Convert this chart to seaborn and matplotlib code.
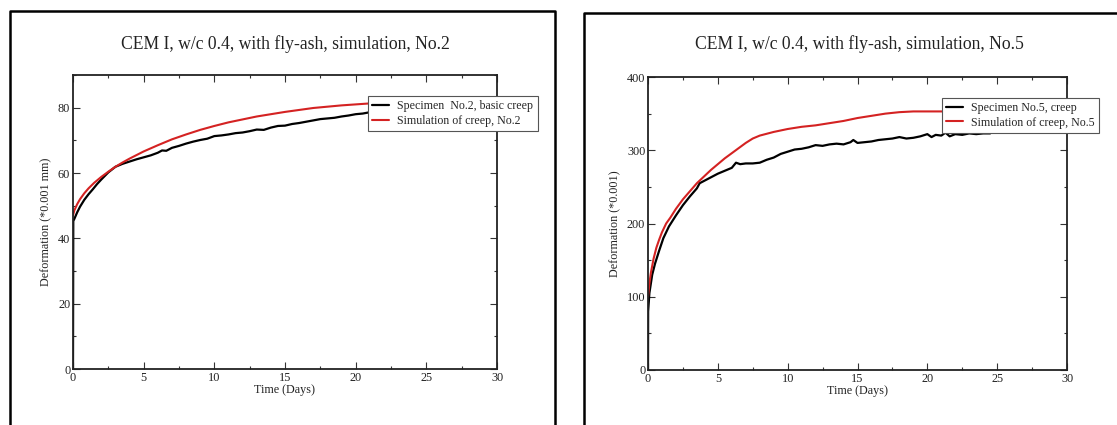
import matplotlib
matplotlib.use("Agg")
import matplotlib.pyplot as plt
from matplotlib.ticker import MultipleLocator
from matplotlib.lines import Line2D
import pandas as pd
import seaborn as sns

# specimen No.2 (measured) and its simulation
t_spec2 = [0, 0.02, 0.1, 0.3, 0.5, 0.8, 1.1, 1.4, 1.7, 2.0, 2.5, 3.0, 3.5, 4.0, 4.5,
           5.0, 5.5, 6.0, 6.3, 6.6, 7.0, 7.5, 8.0, 8.5, 9.0, 9.5, 10.0, 10.5, 11.0,
           11.5, 12.0, 12.5, 13.0, 13.5, 14.0, 14.5, 15.0, 15.5, 16.0, 16.5, 17.0,
           17.5, 18.0, 18.5, 19.0, 19.5, 20.0, 20.5, 21.0, 21.5]
y_spec2 = [0, 45.3, 46.0, 48.0, 49.7, 51.8, 53.5, 55.0, 56.6, 58.0, 60.2, 61.9, 62.8,
           63.5, 64.2, 64.8, 65.4, 66.2, 66.9, 66.8, 67.7, 68.3, 69.0, 69.6, 70.1,
           70.5, 71.3, 71.5, 71.8, 72.2, 72.4, 72.8, 73.3, 73.2, 73.9, 74.4, 74.5,
           75.0, 75.3, 75.7, 76.1, 76.5, 76.7, 76.9, 77.3, 77.6, 78.0, 78.2, 78.6, 79.0]
t_sim2 = [0, 0.1, 0.3, 0.5, 0.8, 1.1, 1.5, 2, 2.5, 3, 3.5, 4, 5, 6, 7, 8, 9, 10, 11,
          12, 13, 14, 15, 16, 17, 18, 19, 20, 21, 22]
y_sim2 = [47.0, 48.6, 50.5, 52.0, 53.8, 55.3, 57.0, 58.8, 60.4, 61.9, 63.2, 64.4,
          66.6, 68.5, 70.3, 71.8, 73.2, 74.4, 75.5, 76.4, 77.3, 78.0, 78.7, 79.3,
          79.9, 80.3, 80.7, 81.0, 81.3, 81.5]

# specimen No.5 (measured) and its simulation
t_spec5 = [0, 0.01, 0.1, 0.3, 0.5, 0.8, 1.1, 1.5, 2.0, 2.5, 3.0, 3.5, 3.7, 4.0, 4.5,
           5.0, 5.5, 6.0, 6.3, 6.6, 7.0, 7.5, 8.0, 8.5, 9.0, 9.5, 10.0, 10.5, 11.0,
           11.5, 12.0, 12.5, 13.0, 13.5, 14.0, 14.5, 14.7, 15.0, 15.5, 16.0, 16.5,
           17.0, 17.5, 18.0, 18.5, 19.0, 19.5, 20.0, 20.3, 20.6, 21.0, 21.3, 21.6,
           22.0, 22.5, 23.0, 23.5, 24.0, 24.5]
y_spec5 = [0, 80, 105, 130, 145, 163, 180, 196, 211, 225, 237, 248, 255, 258, 263,
           268, 272, 276, 283, 281, 282, 282, 283, 287, 290, 295, 298, 301, 302, 304,
           307, 306, 308, 309, 308, 311, 314, 310, 311, 312, 314, 315, 316, 318, 316,
           317, 319, 322, 318, 321, 320, 324, 319, 322, 321, 323, 322, 323, 323]
t_sim5 = [0, 0.1, 0.2, 0.4, 0.6, 0.8, 1.0, 1.3, 1.6, 2.0, 2.5, 3.0, 3.5, 4.0, 4.5,
          5.0, 5.5, 6.0, 6.5, 7.0, 7.5, 8.0, 9.0, 10.0, 11.0, 12.0, 13.0, 14.0, 15.0,
          16.0, 17.0, 18.0, 19.0, 20.0, 21.0, 22.0]
y_sim5 = [100, 118, 132, 152, 167, 178, 188, 200, 208, 220, 233, 244, 255, 264, 273,
          281, 289, 296, 303, 310, 316, 320, 325, 329, 332, 334, 337, 340, 344, 347,
          350, 352, 353, 353, 353, 352]

titles = ["CEM I, w/c 0.4, with fly-ash, simulation, No.2",
          "CEM I, w/c 0.4, with fly-ash, simulation, No.5"]
ylabels = ["Deformation (*0.001 mm)", "Deformation (*0.001)"]
labels2 = ["Specimen  No.2, basic creep", "Simulation of creep, No.2"]
labels5 = ["Specimen No.5, creep", "Simulation of creep, No.5"]

sns.set_style("ticks")
plt.rcParams["font.family"] = ["Liberation Serif", "DejaVu Serif"]

W, H = 1117, 425
fig = plt.figure(figsize=(W / 100, H / 100), dpi=100)

red = "#d42222"

# outer frames around each panel
for xs, ys in [([10, 10, 555, 555], [430, 11, 11, 430]),
               ([584, 584, 1120], [430, 13, 13])]:
    fig.add_artist(Line2D([x / W for x in xs], [1 - y / H for y in ys],
                          transform=fig.transFigure, color="black", lw=1.8))

panels = [
    dict(rect=[73 / W, 1 - 369 / H, 424 / W, 294 / H], spec=(t_spec2, y_spec2),
         sim=(t_sim2, y_sim2), labels=labels2, ylim=90, ymaj=20, ymin=10,
         leg=(0.696, 0.93), title_x=285),
    dict(rect=[648 / W, 1 - 370 / H, 419 / W, 293 / H], spec=(t_spec5, y_spec5),
         sim=(t_sim5, y_sim5), labels=labels5, ylim=400, ymaj=100, ymin=50,
         leg=(0.702, 0.93), title_x=859),
]

for i, p in enumerate(panels):
    ax = fig.add_axes(p["rect"])
    spec = pd.DataFrame({"t": p["spec"][0], "y": p["spec"][1]})
    sim = pd.DataFrame({"t": p["sim"][0], "y": p["sim"][1]})
    sns.lineplot(data=spec, x="t", y="y", ax=ax, color="black", lw=1.6,
                 sort=False, estimator=None, label=p["labels"][0])
    sns.lineplot(data=sim, x="t", y="y", ax=ax, color=red, lw=1.5,
                 sort=False, estimator=None, label=p["labels"][1])
    ax.set_xlim(0, 30)
    ax.set_ylim(0, p["ylim"])
    ax.xaxis.set_major_locator(MultipleLocator(5))
    ax.xaxis.set_minor_locator(MultipleLocator(2.5))
    ax.yaxis.set_major_locator(MultipleLocator(p["ymaj"]))
    ax.yaxis.set_minor_locator(MultipleLocator(p["ymin"]))
    ax.tick_params(which="both", direction="in", top=True, right=True,
                   colors="#333333", labelcolor="#222222", labelsize=8.8, pad=2)
    ax.tick_params(which="major", length=5, width=0.8)
    ax.tick_params(which="minor", length=2.5, width=0.8)
    for s in ax.spines.values():
        s.set_linewidth(1.3)
        s.set_color("#222222")
    ax.set_xlabel("Time (Days)", fontsize=8.7, color="#222222", labelpad=0)
    ax.set_ylabel(ylabels[i], fontsize=8.7, color="#222222", labelpad=4)
    leg = ax.legend(loc="upper left", bbox_to_anchor=p["leg"], fontsize=8.6,
                    frameon=True, fancybox=False, framealpha=1, edgecolor="#555555",
                    handlelength=1.4, handletextpad=0.7, labelspacing=0.25,
                    borderpad=0.35, borderaxespad=0)
    leg.get_frame().set_linewidth(0.8)
    fig.text(p["title_x"] / W, 1 - 44 / H, titles[i], ha="center", va="center",
             fontsize=12.7, color="#222222")

fig.savefig("out.png", dpi=100)
